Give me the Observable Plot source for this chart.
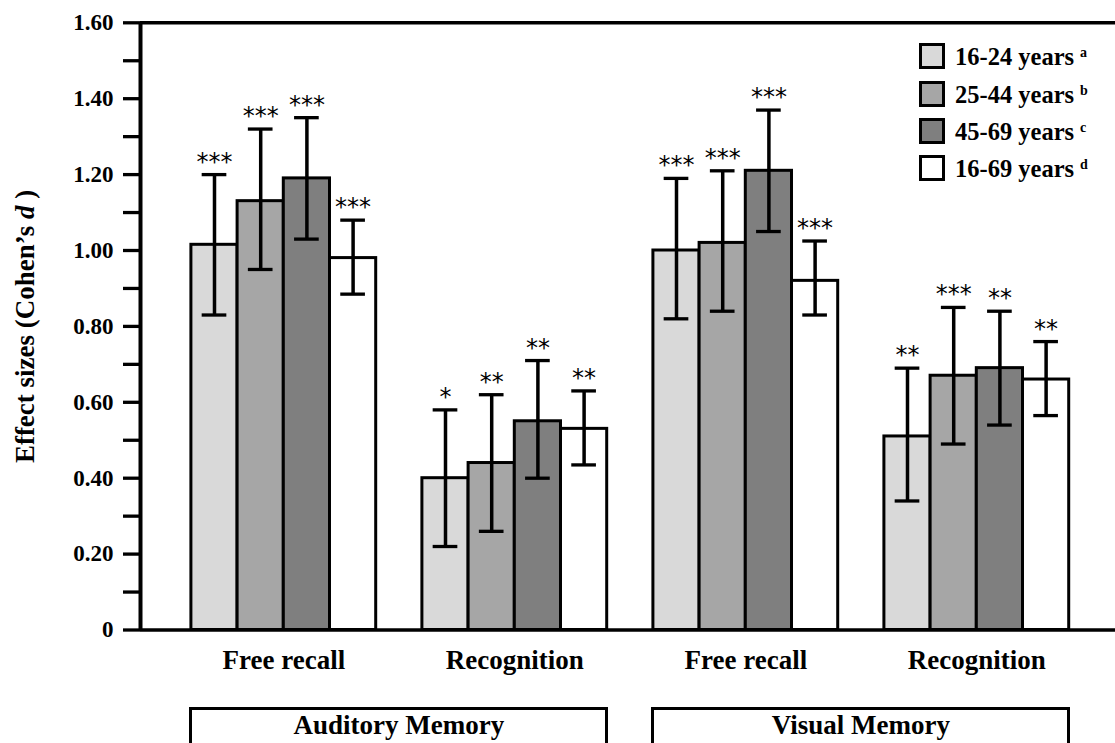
<!DOCTYPE html>
<html>
<head>
<meta charset="utf-8">
<script src="https://cdn.jsdelivr.net/npm/d3@7"></script>
<script src="https://cdn.jsdelivr.net/npm/@observablehq/plot@0.6"></script>
<style>
  html, body { margin: 0; padding: 0; background: #fff; }
  #wrap { position: relative; width: 1115px; height: 743px; overflow: hidden; font-family: "Liberation Serif", serif; }
  #wrap svg { position: absolute; left: 0; top: 0; }
  .legend { position: absolute; left: 919px; top: 37.5px; font-weight: bold; font-size: 24.5px; }
  .legend .row { display: flex; align-items: center; height: 37.4px; }
  .legend .sw { width: 20px; height: 20px; border: 3px solid #000; box-sizing: content-box; }
  .legend .lab { margin-left: 10px; line-height: 26px; position: relative; top: 1px; white-space: nowrap; }
  .legend sup { font-size: 14px; vertical-align: 8px; margin-left: 6px; line-height: 0; }
  .grp { position: absolute; top: 707px; height: 60px; border: 3px solid #000; box-sizing: border-box;
         text-align: center; font-weight: bold; font-size: 27px; line-height: 30px; }
</style>
</head>
<body>
<div id="wrap"></div>
<script>
// ---- data ----
const tasks = ["Free recall", "Recognition", "Free recall", "Recognition"];
const memoryTypes = ["Auditory Memory", "Visual Memory"];
const taskMemory = [0, 0, 1, 1];
const ageGroups = ["16-24 years", "25-44 years", "45-69 years", "16-69 years"];
const ageNotes = ["a", "b", "c", "d"];
const ageColors = ["#d9d9d9", "#a6a6a6", "#7f7f7f", "#ffffff"];

// effect sizes per age group, one value per task (in task order)
const d16_24 = [1.015, 0.40, 1.00, 0.51];
const d25_44 = [1.13, 0.44, 1.02, 0.67];
const d45_69 = [1.19, 0.55, 1.21, 0.69];
const d16_69 = [0.98, 0.53, 0.92, 0.66];
// lower / upper ends of the error bars
const lo16_24 = [0.83, 0.22, 0.82, 0.34];
const hi16_24 = [1.20, 0.58, 1.19, 0.69];
const lo25_44 = [0.95, 0.26, 0.84, 0.49];
const hi25_44 = [1.32, 0.62, 1.21, 0.85];
const lo45_69 = [1.03, 0.40, 1.05, 0.54];
const hi45_69 = [1.35, 0.71, 1.37, 0.84];
const lo16_69 = [0.885, 0.435, 0.83, 0.565];
const hi16_69 = [1.08, 0.63, 1.025, 0.76];
// significance stars
const st16_24 = ["***", "*", "***", "**"];
const st25_44 = ["***", "**", "***", "***"];
const st45_69 = ["***", "**", "***", "**"];
const st16_69 = ["***", "**", "***", "**"];

// y-axis ticks
const yTicks = [0, 0.2, 0.4, 0.6, 0.8, 1.0, 1.2, 1.4, 1.6];
const yTickLabels = ["0", "0.20", "0.40", "0.60", "0.80", "1.00", "1.20", "1.40", "1.60"];
const yMinorTicks = [0.1, 0.3, 0.5, 0.7, 0.9, 1.1, 1.3, 1.5];
const yLabel = "Effect sizes (Cohen’s d )";

// ---- table ----
const values = [d16_24, d25_44, d45_69, d16_69];
const lows = [lo16_24, lo25_44, lo45_69, lo16_69];
const highs = [hi16_24, hi25_44, hi45_69, hi16_69];
const stars = [st16_24, st25_44, st45_69, st16_69];
const slotsPerTask = ageGroups.length + 1; // one empty slot between tasks
const rows = [];
tasks.forEach((t, ti) => {
  ageGroups.forEach((a, ai) => {
    rows.push({
      task: t, age: a, slot: ti * slotsPerTask + ai,
      value: values[ai][ti], lo: lows[ai][ti], hi: highs[ai][ti], stars: stars[ai][ti]
    });
  });
});
const taskLabels = tasks.map((t, ti) => ({ text: t, center: ti * slotsPerTask + (ageGroups.length - 1) / 2 }));
const labelMap = new Map(yTicks.map((v, i) => [v, yTickLabels[i]]));

const xDomain = [-1.6017, 19.502];
const capHalf = 0.267;
const serif = "Liberation Serif";

const plot = Plot.plot({
  width: 1115,
  height: 743,
  marginLeft: 140,
  marginRight: 0,
  marginTop: 22.3,
  marginBottom: 113.5,
  style: { fontFamily: serif, background: "white", overflow: "visible" },
  x: { type: "linear", domain: xDomain, axis: null },
  y: { domain: [0, 1.6] },
  color: { domain: ageGroups, range: ageColors },
  marks: [
    Plot.rectY(rows, {
      x1: d => d.slot - 0.5, x2: d => d.slot + 0.5, y1: 0, y2: "value",
      fill: "age", stroke: "black", strokeWidth: 3
    }),
    Plot.ruleX(rows, { x: "slot", y1: "lo", y2: "hi", stroke: "black", strokeWidth: 3.5 }),
    Plot.ruleY(rows, { y: "hi", x1: d => d.slot - capHalf, x2: d => d.slot + capHalf, stroke: "black", strokeWidth: 3.3 }),
    Plot.ruleY(rows, { y: "lo", x1: d => d.slot - capHalf, x2: d => d.slot + capHalf, stroke: "black", strokeWidth: 3.3 }),
    Plot.text(rows, {
      x: "slot", y: "hi", text: "stars", lineAnchor: "bottom", dy: -5,
      fontFamily: "DejaVu Sans", fontSize: 24, fill: "black"
    }),
    Plot.ruleY([0, 1.6], { stroke: "black", strokeWidth: 3.5 }),
    Plot.ruleX([xDomain[0]], { stroke: "black", strokeWidth: 4 }),
    Plot.axisY(yTicks, {
      tickSize: 17, tickPadding: 10, strokeWidth: 3.3, label: null,
      tickFormat: d => labelMap.get(d), fontSize: 23, fontWeight: "bold", fontFamily: serif, fill: "black"
    }),
    Plot.axisY(yMinorTicks, { tickSize: 17, strokeWidth: 3.3, label: null, tickFormat: () => "" }),
    Plot.text(taskLabels, {
      x: "center", y: 0, text: "text", dy: 30, lineAnchor: "middle",
      fontSize: 27, fontWeight: "bold", fontFamily: serif, fill: "black"
    }),
    Plot.text([yLabel], {
      frameAnchor: "left", textAnchor: "middle", rotate: -90, dx: -115, lineAnchor: "middle", text: d => d,
      fontSize: 27, fontWeight: "bold", fontFamily: serif, fill: "black"
    })
  ]
});

const wrap = document.getElementById("wrap");
wrap.appendChild(plot);

// italic "d" in the y label
d3.select(plot).selectAll("text").filter(function () { return this.textContent === yLabel; })
  .each(function () {
    const t = d3.select(this);
    t.text(null);
    t.append("tspan").text("Effect sizes (Cohen’s ");
    t.append("tspan").attr("font-style", "italic").text("d");
    t.append("tspan").text(" )");
  });

// legend
const legend = document.createElement("div");
legend.className = "legend";
ageGroups.forEach((a, i) => {
  const row = document.createElement("div");
  row.className = "row";
  const sw = document.createElement("div");
  sw.className = "sw";
  sw.style.background = ageColors[i];
  const lab = document.createElement("span");
  lab.className = "lab";
  lab.textContent = a;
  const sup = document.createElement("sup");
  sup.textContent = ageNotes[i];
  lab.appendChild(sup);
  row.appendChild(sw);
  row.appendChild(lab);
  legend.appendChild(row);
});
wrap.appendChild(legend);

// memory-type boxes under the tasks, positioned with the x scale
const xs = plot.scale("x");
memoryTypes.forEach((m, mi) => {
  const tIdx = tasks.map((t, i) => i).filter(i => taskMemory[i] === mi);
  const first = tIdx[0] * slotsPerTask - 0.5;
  const last = tIdx[tIdx.length - 1] * slotsPerTask + ageGroups.length - 0.5;
  const left = xs.apply(first), right = xs.apply(last);
  const box = document.createElement("div");
  box.className = "grp";
  box.style.left = (left - 1.5) + "px";
  box.style.width = (right - left + 3) + "px";
  box.textContent = m;
  wrap.appendChild(box);
});
</script>
</body>
</html>
